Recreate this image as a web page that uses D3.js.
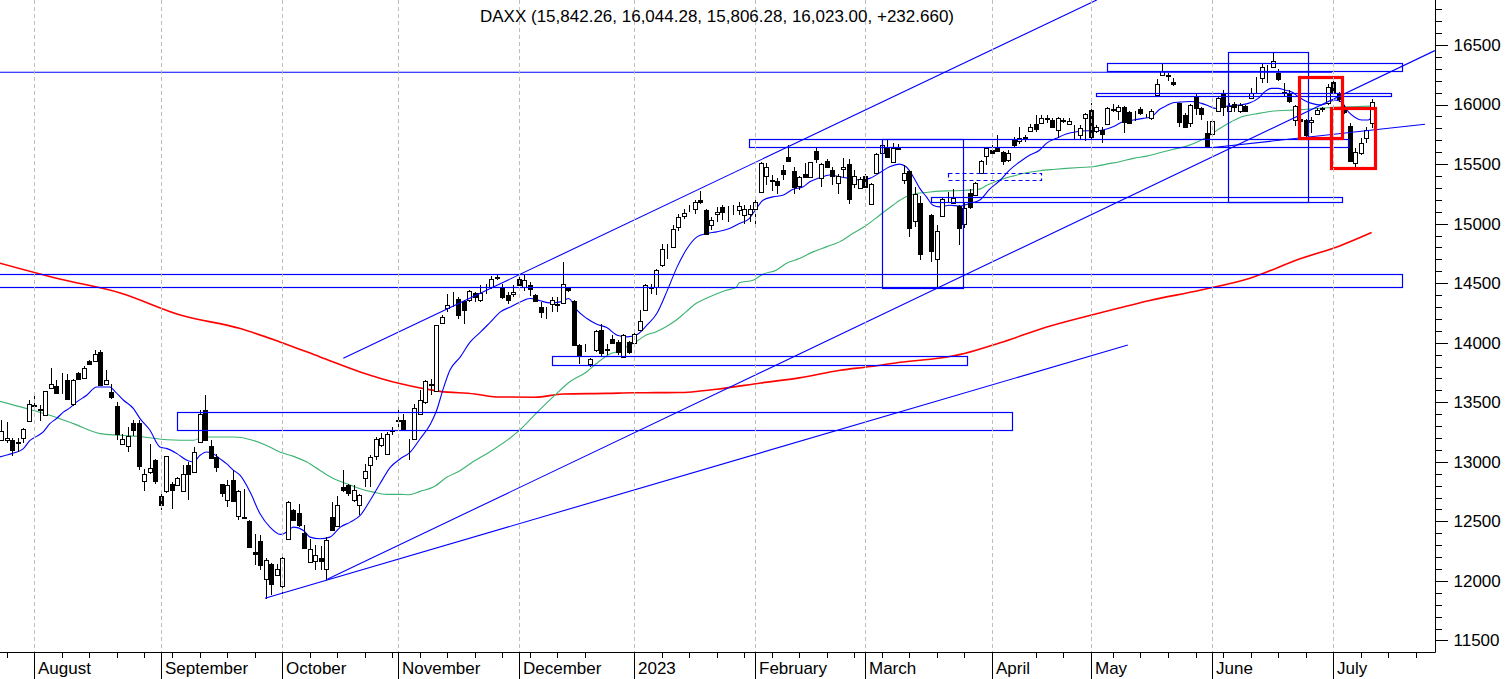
<!DOCTYPE html>
<html><head><meta charset="utf-8">
<script src="https://cdn.jsdelivr.net/npm/d3@7"></script>
<style>
html,body{margin:0;padding:0;background:#fff;overflow:hidden;}
svg{display:block;font-family:"Liberation Sans",Arial,sans-serif;}
</style></head><body>
<svg id="c" width="1506" height="679"></svg>
<script>
// ---------- DATA ----------
const TITLE = "DAXX (15,842.26, 16,044.28, 15,806.28, 16,023.00, +232.660)";
const START_DATE = "2022-07-22";
const HOLIDAYS = ["2022-12-26","2023-04-07","2023-04-10","2023-05-01"];
const MONTH_LABELS = ["2023","February","March","April","May","June","July","August","September","October","November","December"];
const PRICE_TICKS = [11500,12000,12500,13000,13500,14000,14500,15000,15500,16000,16500];

const opens = [13181,13181,13181,13158,13203,13343,13470,13440,13391,13623,13634,13685,13690,13483,13746,13707,13845,13847,13923,13651,
13587,13466,13153,13130,13326,13326,12836,12917,13013,12710,12755,12817,12803,12758,12971,12917,13167,13438,13130,13041,
12811,12677,12845,12548,12535,12500,12240,12332,12018,12139,12054,11954,12354,12598,12573,12402,12158,12166,12195,12102,
12536,12461,12790,12802,12677,12635,12867,12970,13046,13138,13068,13262,13340,13354,13135,13195,13399,13503,13657,13595,
14169,14295,14395,14371,14348,14357,14420,14357,14430,14464,14545,14464,14399,14407,14539,14464,14483,14399,14301,14275,
14329,14329,14335,14464,14352,13979,13940,13825,13943,14110,13945,14035,14007,13881,14007,14001,14105,14273,14460,14469,
14651,14760,14805,14973,15066,15125,15127,15200,15113,14987,15085,15141,15133,15138,15113,15071,15085,15127,15267,15402,
15365,15360,15449,15562,15441,15315,15416,15393,15612,15380,15528,15449,15343,15455,15500,15330,15296,15399,15164,15427,
15590,15646,15520,15640,15366,15444,15024,15175,null,15071,14707,15063,15195,15175,15147,15000,15259,15240,15427,15567,
15618,15637,15604,15534,15702,15696,15724,15780,15836,15848,15880,15870,15786,15867,15836,15803,15744,15884,15954,15780,
15786,15836,15955,15948,15976,15940,15935,15960,15900,15884,16080,16248,16245,16186,16010,15912,15848,16066,15968,15763,
15752,15948,16088,15948,16004,15948,15987,16052,16222,16220,16265,16312,16268,16108,16094,15870,15875,15870,15855,15920,
15965,16010,16186,16094,15960,15819,15511,15590,15716,15842.26];

const highs = [13354,13335,13203,13203,13287,13517,13559,13475,13595,13788,13690,13746,13741,13699,13755,13802,13859,13943,13943,13774,
13657,13503,13231,13293,13354,13354,12943,13147,13027,12733,13050,12831,12873,12971,12999,13125,13433,13559,13186,13069,
12815,12845,12929,12766,12775,12508,12396,12382,12190,12150,12144,12228,12671,12606,12648,12466,12354,12298,12290,12368,
12662,12710,12928,12816,12802,12733,12984,13054,13209,13242,13251,13293,13447,13399,13195,13483,13601,13685,13699,14150,
14231,14413,14427,14380,14363,14447,14430,14483,14497,14559,14567,14497,14427,14483,14576,14576,14511,14410,14343,14301,
14380,14385,14679,14469,14363,13993,13993,13875,14105,14155,13993,14063,14027,14077,14015,14083,14279,14497,14492,14615,
14828,14828,14987,15085,15127,15155,15200,15276,15127,15057,15136,15155,15147,15155,15183,15155,15155,15225,15520,15511,
15408,15380,15491,15660,15472,15399,15506,15520,15640,15511,15539,15478,15421,15548,15542,15449,15394,15421,15338,15590,
15688,15707,15674,15668,15490,15450,15304,15231,null,15080,14987,15226,15268,15287,15155,15170,15290,15350,15534,15640,
15660,15744,15612,15618,15724,15814,15744,15836,15912,15912,15912,15884,15898,15884,15884,15828,15828,15926,16010,15828,
15808,15982,16004,15996,15987,15948,15948,15976,15920,15960,16212,16346,16268,16220,16015,15926,16004,16094,15982,15864,
15875,16066,16122,16010,16024,16010,15996,16136,16228,16340,16332,16436,16296,16178,16122,15996,15903,15875,15898,15968,
15982,16172,16206,16108,16000,15847,15632,15716,15808,16044.28];

const lows = [13172,13158,13046,13083,13158,13335,13455,13343,13382,13620,13567,13573,13522,13466,13685,13699,13811,13839,13634,13643,
13531,13186,13147,13083,13214,12934,12755,12901,12817,12592,12738,12607,12794,12747,12682,12915,13158,13181,13027,12915,
12705,12621,12662,12508,12522,12279,12130,12088,11850,11878,12046,11892,12346,12508,12452,12270,12150,12094,12088,12004,
12424,12452,12746,12710,12662,12550,12788,12788,13012,13124,13063,13222,13293,13259,13018,13189,13391,13489,13559,13590,
14161,14259,14301,14203,14155,14343,14340,14343,14408,14455,14525,14371,14329,14385,14475,14436,14391,14343,14211,14203,
14259,14259,14329,14427,13980,13825,13923,13797,13923,13887,13895,13987,13895,13875,13909,13979,14099,14270,14408,14399,
14637,14699,14800,14940,15043,15099,15085,15165,14911,14945,15015,15029,15015,15071,15071,14996,15015,15001,15265,15323,
15276,15248,15365,15525,15253,15281,15380,15380,15506,15304,15472,15323,15253,15380,15169,15300,15287,15296,15160,15422,
15585,15556,15514,15618,15332,14889,14973,14693,null,14679,14469,15057,15170,15164,14819,14960,15120,15230,15422,15492,
15567,15604,15492,15520,15646,15668,15688,15772,15772,15842,15842,15800,15716,15847,15828,15702,15702,15696,15707,15758,
15674,15828,15940,15870,15758,15842,15864,15912,15884,15870,16074,16240,16200,16155,15808,15800,15808,15912,15870,15632,
15744,15940,15903,15940,15940,15926,15940,16043,16100,16178,16178,16304,16200,16066,16010,15819,15847,15730,15763,15912,
15940,15996,16080,16024,15920,15520,15472,15576,15674,15806.28];

const closes = [13256,13203,13102,13167,13279,13483,13479,13437,13592,13657,13578,13690,13531,13690,13699,13791,13825,13909,13643,13690,
13545,13231,13195,13214,13265,12962,12895,12951,12839,12637,13046,12761,12867,12901,12901,13085,13399,13186,13035,12957,
12738,12803,12671,12758,12531,12284,12228,12130,12178,11976,12102,12195,12662,12514,12466,12279,12270,12214,12166,12346,
12430,12640,12762,12738,12761,12724,12923,13040,13195,13203,13237,13265,13349,13265,13130,13455,13522,13679,13647,14147,
14217,14315,14390,14231,14278,14435,14385,14419,14427,14539,14548,14380,14363,14427,14483,14531,14455,14349,14259,14278,
14363,14315,14497,14447,13985,13895,13937,13867,14099,13914,13943,13999,13923,14063,13923,14071,14184,14483,14464,14609,
14791,14763,14951,15057,15091,15127,15183,15181,14917,15029,15099,15099,15130,15141,15147,15127,15127,15183,15511,15472,
15360,15323,15416,15528,15310,15393,15388,15514,15542,15497,15478,15399,15402,15472,15211,15400,15371,15310,15332,15584,
15660,15562,15632,15623,15427,14965,15248,14741,null,14772,14937,15203,15198,15212,14965,15128,15142,15338,15525,15632,
15590,15612,15528,15595,15660,15716,15710,15814,15791,15889,15884,15808,15884,15864,15864,15800,15800,15917,15730,15808,
15752,15968,15960,15976,15856,15848,15940,15926,15903,15948,16172,16284,16240,16170,15856,15808,15996,15968,15920,15646,
15861,16052,15982,15987,15976,15996,15948,16100,16225,16312,16262,16365,16212,16094,16032,15990,15861,15744,15870,15954,
15968,16144,16094,16043,15937,15528,15604,15679,15786,16023];

// moving averages: [bar index, value]
const maFast = [[-0.3,13041],[2.2,13074],[4,13111],[5.2,13181],[6.4,13214],[7.6,13251],[8.8,13321],[10,13363],[11.3,13419],[12.5,13455],
[13.7,13503],[15.5,13559],[17.3,13629],[19.7,13629],[20.7,13587],[22.2,13517],[24,13447],[25.2,13363],[27,13265],[28.8,13125],
[30.1,13111],[31.9,13069],[33.7,13013],[34.9,12999],[36.1,13055],[37.3,13083],[38.5,13069],[39.7,13027],[40.9,12985],[42.2,12929],
[43.4,12886],[45.2,12746],[47,12564],[48.8,12452],[50.7,12391],[51.3,12396],[53.1,12452],[54.9,12424],[56.1,12368],[57.9,12354],
[59.7,12368],[61.6,12452],[63.4,12494],[65.2,12550],[67,12676],[68.8,12816],[70.7,12956],[72.5,13026],[74.3,13082],[76.1,13194],
[78,13320],[79.1,13433],[80.3,13615],[81.5,13769],[83.4,13881],[85.2,14007],[87.1,14091],[88.9,14175],[90.7,14259],[92.5,14301],
[94.3,14343],[96.1,14371],[97.9,14352],[99.7,14335],[101.6,14343],[103.1,14371],[104.6,14273],[106.4,14203],[108.2,14156],[110,14128],
[111.9,14063],[113.7,14049],[115.5,14069],[117.3,14147],[119.1,14245],[120.9,14427],[122.8,14637],[124.6,14791],[126.4,14889],[128.2,14917],
[130,14931],[132.3,14959],[134.1,15001],[135.9,15043],[137.2,15127],[138.4,15197],[140.2,15225],[142,15239],[143.8,15287],[145.7,15310],
[146.9,15352],[148.7,15385],[150.5,15408],[152.3,15394],[154.1,15380],[156,15366],[157.8,15380],[159.6,15427],[161.4,15478],[163.2,15500],
[164.4,15478],[165.7,15394],[166.9,15296],[168.1,15225],[169.3,15155],[170.5,15141],[172.3,15155],[174.1,15147],[175.9,15169],[177.8,15198],
[179.6,15290],[181.4,15360],[183.2,15450],[185.1,15520],[186.9,15576],[188.7,15618],[189.9,15674],[191.7,15716],[193.5,15752],[195.4,15772],
[197.2,15780],[199,15780],[200.2,15786],[202,15814],[203.8,15856],[205.7,15870],[207.5,15884],[209,15898],[210.5,15960],[211.7,15990],
[212.9,16015],[214.1,16020],[216,16025],[216.9,16024],[218.1,16010],[219.3,15990],[220.5,15968],[221.7,15982],[222.9,15987],[224.8,15996],
[226.6,16010],[228.4,16052],[229.6,16108],[230.8,16136],[232,16136],[233.2,16122],[234.4,16108],[235.7,16066],[236.9,16032],[238.1,16010],
[239.9,15996],[241.1,16015],[242.3,16038],[243.5,16024],[244.75,15940],[246,15892],[247.2,15870],[248.4,15870],[249,15892]];

const maMid = [[-0.3,13508],[4.6,13447],[8.8,13391],[13.1,13321],[17.9,13237],[21.6,13223],[25.8,13209],[30.1,13186],[34.9,13181],[36.7,13209],
[42.2,13209],[45.8,13180],[48.2,13138],[50.6,13082],[53.1,13046],[55.5,12998],[57.9,12928],[60.4,12858],[62.8,12816],[65.2,12774],
[67.6,12746],[70,12727],[72.5,12727],[74,12724],[76.1,12752],[78.5,12788],[81,12872],[83.4,12928],[85.5,12995],[88.8,13085],
[92.4,13198],[94.2,13268],[97.3,13413],[100.3,13547],[103.3,13673],[106.4,13757],[108.2,13828],[110.6,13906],[111.7,13923],[113.5,13965],
[115.3,14007],[117.1,14063],[118.9,14091],[120.7,14133],[122.6,14189],[124.4,14259],[126.2,14329],[128,14371],[129.8,14408],[131.7,14441],
[133.5,14464],[134.1,14503],[136.6,14525],[138.4,14576],[140.8,14609],[142.6,14665],[145,14707],[147.5,14763],[149.9,14805],[152.3,14847],
[154.7,14917],[157.2,14987],[159.6,15071],[162,15155],[164.4,15225],[166.3,15253],[168.1,15262],[170.5,15273],[172.9,15276],[175.3,15280],
[177.8,15290],[179,15320],[181.4,15366],[183.8,15399],[186.3,15427],[188.7,15444],[191.1,15455],[193.5,15464],[196,15472],[198.4,15478],
[200.8,15500],[203.2,15520],[205.7,15548],[208.1,15567],[210.5,15595],[212.9,15623],[215.4,15651],[217.8,15696],[219.5,15740],[221.7,15808],
[223.5,15856],[225.4,15898],[227.8,15920],[230.2,15940],[236,15957],[240,15971],[245,15982],[249,15987]];

const maSlow = [[-0.3,14668],[10.6,14535],[21.6,14418],[32.5,14233],[43.4,14119],[50.6,14007],[57.9,13881],[65.2,13755],[72.4,13657],[79.7,13592],
[86,13570],[90,13545],[97,13542],[102,13570],[110,13575],[115,13580],[123,13582],[130,13610],[138,13662],[145,13705],
[152.4,13769],[158,13800],[163.3,13836],[170.6,13872],[175,13910],[181.5,14000],[190.6,14140],[199.6,14250],[208.7,14355],[217.8,14441],
[226.9,14542],[236,14705],[243.3,14815],[249,14925]];

// drawn annotations: rectangles [bar from, bar to, price top, price bottom]
const blueBoxes = [[200.97,254.6,16346,16284],[199.0,252.6,16094,16072],[135.9,244.65,15708,15641],[160.1,174.8,15708,14462],
[-2,254.6,14575,14466],[100.1,175.5,13889,13811],[31.96,183.65,13416,13265],[222.95,237.5,16439,15184],[168.9,243.7,15221,15184]];
const dashedBoxes = [[172.0,188.9,15423,15367]];
const redBoxes = [[235.8,243.7,16234,15722],[241.7,249.7,15968,15465]];
// lines [bar, price, bar, price]
const blueLines = [[-2,16271,241.8,16271],[62.13,13869,199.05,16878],[59.22,12014,260.5,16453],[47.9,11854,204.7,13981],[220.2,15639,258.7,15834]];

// ---------- CHART ----------
const W = 1506, H = 679, PR = 1435, PB = 652;
const svg = d3.select("#c");
const x = d3.scaleLinear().domain([0, 249]).range([1.4, 1371.6]);
const y = d3.scaleLinear().domain([11403.4, 16877.8]).range([PB, 0]);

// trading calendar for the time axis
const hol = new Set(HOLIDAYS);
const dates = [];
let dd = d3.utcParse("%Y-%m-%d")(START_DATE);
while (dates.length < 268) {
  const wd = dd.getUTCDay(), s = d3.utcFormat("%Y-%m-%d")(dd);
  if (wd !== 0 && wd !== 6 && !hol.has(s)) dates.push(dd);
  dd = d3.utcDay.offset(dd, 1);
}
const monthIdx = [], weekIdx = [];
dates.forEach((d, i) => {
  if (i === 0 || x(i) > PR) return;
  if (d.getUTCMonth() !== dates[i-1].getUTCMonth()) monthIdx.push(i);
  else if (d.getUTCDay() === 1) weekIdx.push(i);
});

svg.append("defs").append("clipPath").attr("id","pc").append("rect")
  .attr("x",0).attr("y",0).attr("width",PR).attr("height",PB);
const plot = svg.append("g").attr("clip-path","url(#pc)");

// dashed month grid
svg.append("g").selectAll("line").data(monthIdx).join("line")
  .attr("x1", i => Math.round(x(i))+0.5).attr("x2", i => Math.round(x(i))+0.5)
  .attr("y1", 0).attr("y2", PB)
  .attr("stroke","#bdbdbd").attr("stroke-width",1).attr("stroke-dasharray","4,3");

// moving averages
const maLine = d3.line().x(d => x(d[0])).y(d => y(d[1])).curve(d3.curveMonotoneX);
plot.append("path").attr("d", maLine(maSlow)).attr("fill","none").attr("stroke","#ff0000").attr("stroke-width",1.6);
plot.append("path").attr("d", maLine(maMid)).attr("fill","none").attr("stroke","#3cb371").attr("stroke-width",1.1);
plot.append("path").attr("d", maLine(maFast)).attr("fill","none").attr("stroke","#0000ff").attr("stroke-width",1.1);

// candles
const bars = d3.range(closes.length).filter(i => opens[i] != null)
  .map(i => ({i, o: opens[i], h: highs[i], l: lows[i], c: closes[i]}));
const cg = plot.append("g");
cg.selectAll("line").data(bars).join("line")
  .attr("x1", d => Math.round(x(d.i))+0.5).attr("x2", d => Math.round(x(d.i))+0.5)
  .attr("y1", d => Math.round(y(d.h))).attr("y2", d => Math.round(y(d.l)))
  .attr("stroke","#000").attr("stroke-width",1);
cg.selectAll("rect").data(bars).join("rect")
  .attr("x", d => Math.round(x(d.i))-1.5)
  .attr("y", d => Math.round(y(Math.max(d.o,d.c)))+0.5)
  .attr("width", 4)
  .attr("height", d => Math.max(0, Math.round(y(Math.min(d.o,d.c))) - Math.round(y(Math.max(d.o,d.c)))))
  .attr("fill", d => d.c >= d.o ? "#fff" : "#000")
  .attr("stroke","#000").attr("stroke-width",1);

// annotations
const ag = plot.append("g");
function boxes(data, color, width, dash) {
  ag.append("g").selectAll("rect").data(data).join("rect")
    .attr("x", d => Math.round(x(d[0]))+0.5).attr("y", d => Math.round(y(d[2]))+0.5)
    .attr("width", d => Math.round(x(d[1])) - Math.round(x(d[0])))
    .attr("height", d => Math.round(y(d[3])) - Math.round(y(d[2])))
    .attr("fill","none").attr("stroke", color).attr("stroke-width", width)
    .attr("stroke-dasharray", dash || null);
}
boxes(blueBoxes, "#0000ff", 1.2);
boxes(dashedBoxes, "#0000ff", 1.2, "4,3");
ag.append("g").selectAll("line").data(blueLines).join("line")
  .attr("x1", d => x(d[0])).attr("y1", d => y(d[1]))
  .attr("x2", d => x(d[2])).attr("y2", d => y(d[3]))
  .attr("stroke","#0000ff").attr("stroke-width",1.1);
boxes(redBoxes, "#ff0000", 3.2);

// right price axis
svg.append("line").attr("x1",PR+0.5).attr("x2",PR+0.5).attr("y1",0).attr("y2",PB+0.5)
  .attr("stroke","#000").attr("stroke-width",1);
const minor = d3.range(11500, 16801, 100).filter(v => v % 500 !== 0);
svg.append("g").attr("transform",`translate(${PR+0.5},0)`)
  .call(d3.axisRight(y).tickValues(minor).tickSize(6).tickFormat(""))
  .call(g => g.select(".domain").remove());
const ya = svg.append("g").attr("transform",`translate(${PR+0.5},0)`)
  .call(d3.axisRight(y).tickValues(PRICE_TICKS).tickSize(12).tickPadding(6).tickFormat(d3.format("d")))
  .call(g => g.select(".domain").remove());
ya.selectAll("line").attr("stroke","#000");
ya.selectAll("text").attr("font-size",17).attr("fill","#000")
  .attr("font-family",'"Liberation Sans",Arial,sans-serif');
svg.selectAll(".tick line").attr("shape-rendering","crispEdges");

// bottom time axis
svg.append("line").attr("x1",0).attr("x2",PR+0.5).attr("y1",PB+0.5).attr("y2",PB+0.5)
  .attr("stroke","#000").attr("stroke-width",1);
svg.append("g").selectAll("line").data(weekIdx).join("line")
  .attr("x1", i => Math.round(x(i))+0.5).attr("x2", i => Math.round(x(i))+0.5)
  .attr("y1", PB).attr("y2", PB+6).attr("stroke","#000");
svg.append("g").selectAll("line").data(monthIdx).join("line")
  .attr("x1", i => Math.round(x(i))+0.5).attr("x2", i => Math.round(x(i))+0.5)
  .attr("y1", PB).attr("y2", H).attr("stroke","#000");
svg.append("g").selectAll("text").data(monthIdx).join("text")
  .attr("x", i => Math.round(x(i))+4).attr("y", 674)
  .attr("font-size",17).attr("fill","#000")
  .text(i => MONTH_LABELS[dates[i].getUTCMonth()]);

// title
svg.append("text").attr("x",717).attr("y",22).attr("text-anchor","middle")
  .attr("font-size",17).attr("fill","#000").text(TITLE);
</script>
</body></html>
